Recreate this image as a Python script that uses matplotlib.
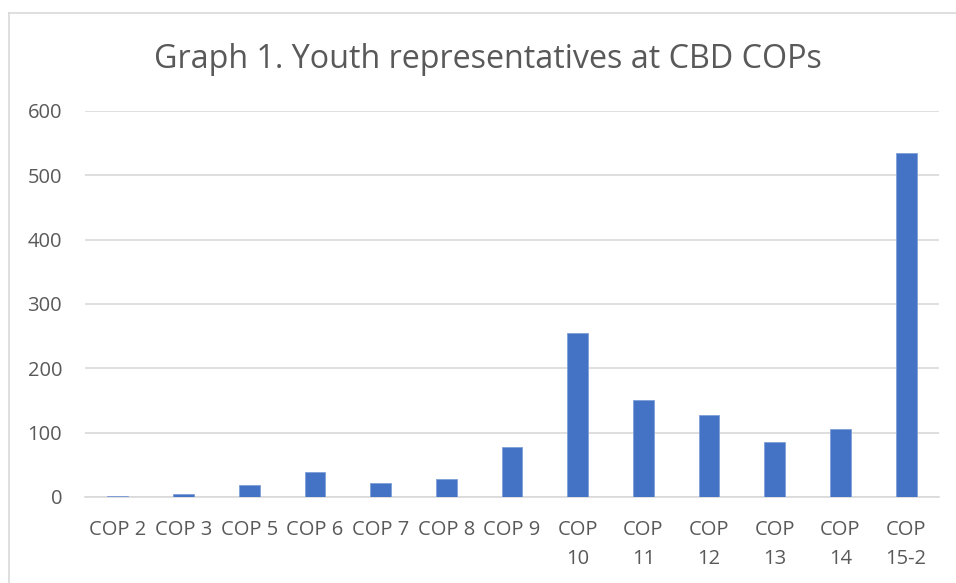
import matplotlib.pyplot as plt
from matplotlib.lines import Line2D

cops = ["COP 2", "COP 3", "COP 5", "COP 6", "COP 7", "COP 8", "COP 9",
        "COP 10", "COP 11", "COP 12", "COP 13", "COP 14", "COP 15-2"]
youth = [2, 4, 19, 39, 22, 28, 77, 255, 151, 127, 85, 106, 535]
y_ticks = [0, 100, 200, 300, 400, 500, 600]

plt.rcParams['font.family'] = ['Open Sans', 'DejaVu Sans']
grigio = "#595959"

fig = plt.figure(figsize=(9.56, 5.83), dpi=100)
ax = fig.add_axes([85 / 956, 1 - 497 / 583, (939 - 85) / 956, (497 - 111) / 583])

x = list(range(len(cops)))
ax.bar(x, youth, width=0.315, color="#4472C4", edgecolor="#7f9fd8", linewidth=0.6, zorder=3)

ax.set_xlim(-0.5, len(cops) - 0.5)
ax.set_ylim(0, 600)
ax.set_yticks(y_ticks)
ax.set_yticklabels([str(v) for v in y_ticks], color=grigio, fontsize=14.5)
ax.yaxis.grid(True, color="#d9d9d9", linewidth=1.2, zorder=0)
ax.tick_params(axis="y", length=0, pad=16.5)
ax.tick_params(axis="x", length=0, pad=16.5)

etichette = [c.replace(" ", "\n") if len(c) > 5 else c for c in cops]
ax.set_xticks(x)
ax.set_xticklabels(etichette, color=grigio, fontsize=14.5, linespacing=1.6)

for s in ["top", "right", "left"]:
    ax.spines[s].set_visible(False)
ax.spines["bottom"].set_color("#d9d9d9")
ax.spines["bottom"].set_linewidth(1.2)

fig.text(488 / 956, 1 - 59 / 583, "Graph 1. Youth representatives at CBD COPs",
         ha="center", va="center", fontsize=23.2, color=grigio)

# bordo del grafico
fig.add_artist(Line2D([8.5 / 956, 8.5 / 956], [0, 1 - 12.5 / 583], transform=fig.transFigure,
                      color="#d9d9d9", linewidth=1.2))
fig.add_artist(Line2D([8.5 / 956, 1], [1 - 12.5 / 583, 1 - 12.5 / 583], transform=fig.transFigure,
                      color="#d9d9d9", linewidth=1.2))

fig.savefig("out.png", dpi=100)
